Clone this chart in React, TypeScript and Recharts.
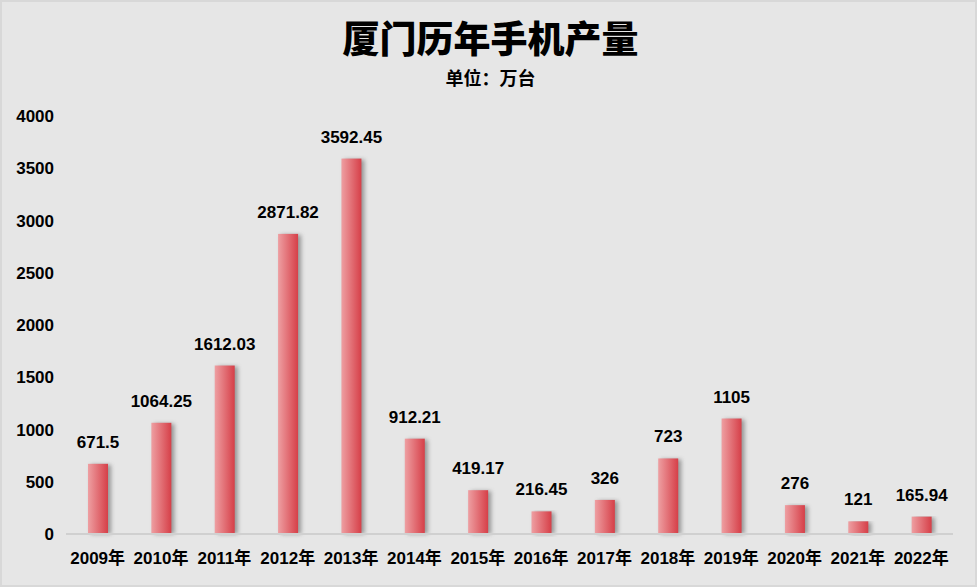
import React from 'react';
import { BarChart, Bar, XAxis, YAxis, LabelList } from 'recharts';

const years = ['2009年', '2010年', '2011年', '2012年', '2013年', '2014年', '2015年', '2016年', '2017年', '2018年', '2019年', '2020年', '2021年', '2022年'];
const output = [671.5, 1064.25, 1612.03, 2871.82, 3592.45, 912.21, 419.17, 216.45, 326, 723, 1105, 276, 121, 165.94];
const yTicks = [0, 500, 1000, 1500, 2000, 2500, 3000, 3500, 4000];

const data = years.map((year, i) => ({ year, value: output[i] }));

const FONT = '"Liberation Sans", "Noto Sans CJK SC", sans-serif';
const CJK = '"Noto Sans CJK SC", sans-serif';

// 柱子：渐变 + 右侧阴影
const ShadowBar = (props: any) => {
  const { x, y, width, height } = props;
  if (!height || height <= 0) return null;
  return (
    <g>
      <rect x={x + 3} y={y + 1} width={width} height={height - 1} fill="#555" opacity={0.55} filter="url(#barShadow)" />
      <rect x={x} y={y} width={width} height={height} fill="url(#barGradient)" />
    </g>
  );
};

export default function App() {
  return (
    <div
      style={{
        position: 'fixed',
        left: 0,
        top: 0,
        width: 977,
        height: 587,
        background: '#e6e6e6',
        boxSizing: 'border-box',
        border: '2px solid #d8d8d8',
        fontFamily: FONT,
      }}
    >
      <div
        style={{
          position: 'absolute',
          left: 0,
          top: 17,
          width: 977,
          textAlign: 'center',
          fontFamily: CJK,
          fontWeight: 900,
          fontSize: 37,
          lineHeight: '37px',
          height: 37,
          color: '#000',
        }}
      >
        厦门历年手机产量
      </div>
      <div
        style={{
          position: 'absolute',
          left: 0,
          top: 66,
          width: 977,
          textAlign: 'center',
          fontFamily: CJK,
          fontWeight: 700,
          fontSize: 18,
          lineHeight: '18px',
          height: 18,
          color: '#000',
        }}
      >
        单位：万台
      </div>
      <div style={{ position: 'absolute', left: -2, top: -2 }}>
        <BarChart
          width={977}
          height={587}
          data={data}
          margin={{ top: 116, right: 24, left: 0, bottom: 13 }}
          barSize={20}
        >
          <defs>
            <linearGradient id="barGradient" x1="0" y1="0" x2="1" y2="0">
              <stop offset="0%" stopColor="#ee9fa2" />
              <stop offset="100%" stopColor="#d63f48" />
            </linearGradient>
            <filter id="barShadow" x="-50%" y="-10%" width="200%" height="120%">
              <feGaussianBlur stdDeviation="2" />
            </filter>
          </defs>
          <XAxis
            dataKey="year"
            height={40}
            tickLine={false}
            tickSize={0}
            tickMargin={18}
            axisLine={{ stroke: '#d0d0d0', strokeWidth: 2 }}
            tick={{ fill: '#000', fontSize: 17, fontWeight: 700, fontFamily: FONT }}
            interval={0}
          />
          <YAxis
            width={66}
            domain={[0, 4000]}
            ticks={yTicks}
            axisLine={false}
            tickLine={false}
            tickSize={0}
            tickMargin={12}
            tick={{ fill: '#000', fontSize: 17, fontWeight: 700, fontFamily: FONT }}
          />
          <Bar dataKey="value" shape={<ShadowBar />} isAnimationActive={false}>
            <LabelList
              dataKey="value"
              position="top"
              offset={16}
              style={{ fill: '#000', fontSize: 17, fontWeight: 700, fontFamily: FONT }}
            />
          </Bar>
        </BarChart>
      </div>
    </div>
  );
}
